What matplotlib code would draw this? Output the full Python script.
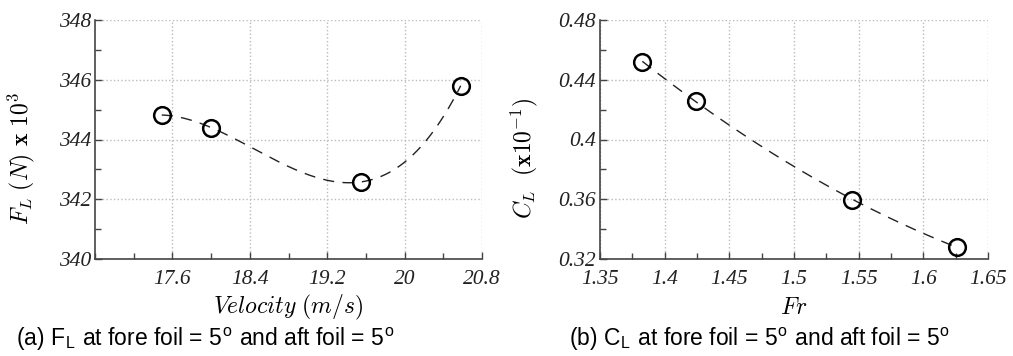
import matplotlib
matplotlib.use("Agg")
import matplotlib.pyplot as plt
import numpy as np
from matplotlib.ticker import MultipleLocator, FuncFormatter

# data
velocity = [17.49, 18.0, 19.55, 20.58]
lift_force = [344.82, 344.4, 342.58, 345.8]

froude = [1.3827, 1.4239, 1.5452, 1.6263]
lift_coef = [0.4521, 0.4258, 0.3597, 0.3278]

plt.rcParams['font.family'] = 'Liberation Serif'
plt.rcParams['font.style'] = 'italic'
plt.rcParams['mathtext.fontset'] = 'cm'

cap_font = ['Liberation Sans', 'DejaVu Sans']

fig = plt.figure(figsize=(10.13, 3.56), dpi=100)
ax1 = fig.add_axes([95 / 1013, 1 - 259 / 356, 387 / 1013, 239 / 356])
ax2 = fig.add_axes([600 / 1013, 1 - 259 / 356, 388 / 1013, 239 / 356])


def fmt(v, pos):
    return ('%.3f' % v).rstrip('0').rstrip('.')


def style(ax):
    for s in ['top', 'right']:
        ax.spines[s].set_visible(False)
    for s in ['left', 'bottom']:
        ax.spines[s].set_color('#444444')
        ax.spines[s].set_linewidth(1.2)
    ax.grid(True, which='major', linestyle=':', color='#bbbbbb', linewidth=1)
    ax.tick_params(which='both', direction='in', color='#444444', width=1)
    ax.tick_params(which='major', length=5, labelsize=15.5, labelcolor='#222222')
    ax.tick_params(axis='x', which='major', pad=8)
    ax.tick_params(axis='y', which='major', pad=3)
    ax.tick_params(which='minor', length=4)
    ax.xaxis.set_major_formatter(FuncFormatter(fmt))
    ax.yaxis.set_major_formatter(FuncFormatter(fmt))


# (a) lift force vs velocity
c1 = np.polyfit(velocity, lift_force, 3)
xs = np.linspace(min(velocity), max(velocity), 200)
ax1.plot(xs, np.polyval(c1, xs), '--', color='#222222', lw=1, dashes=(8, 6))
ax1.plot(velocity, lift_force, 'o', mfc='none', mec='black', ms=12, mew=1.8)
ax1.set_xlim(16.8, 20.8)
ax1.set_ylim(340, 348)
ax1.set_xticks([17.6, 18.4, 19.2, 20.0, 20.8])
ax1.xaxis.set_minor_locator(MultipleLocator(0.4))
ax1.yaxis.set_major_locator(MultipleLocator(2))
ax1.yaxis.set_minor_locator(MultipleLocator(1))
style(ax1)
ax1.set_xlabel(r'$Velocity\ (m/s)$', fontsize=17)
ax1.set_ylabel(r'$F_L\ (N)\ \mathbf{x}\ 10^3$', fontsize=17)
ax1.xaxis.set_label_coords(0.5, -0.142)
ax1.yaxis.set_label_coords(-0.15, 0.42)

# (b) lift coefficient vs Froude number
c2 = np.polyfit(froude, lift_coef, 2)
xs2 = np.linspace(min(froude), max(froude), 200)
ax2.plot(xs2, np.polyval(c2, xs2), '--', color='#222222', lw=1, dashes=(8, 6))
ax2.plot(froude, lift_coef, 'o', mfc='none', mec='black', ms=12, mew=1.8)
ax2.set_xlim(1.35, 1.65)
ax2.set_ylim(0.32, 0.48)
ax2.xaxis.set_major_locator(MultipleLocator(0.05))
ax2.xaxis.set_minor_locator(MultipleLocator(0.025))
ax2.yaxis.set_major_locator(MultipleLocator(0.04))
ax2.yaxis.set_minor_locator(MultipleLocator(0.02))
style(ax2)
ax2.set_xlabel(r'$Fr$', fontsize=17)
ax2.set_ylabel(r'$C_L\ \ (\mathbf{x}10^{-1})$', fontsize=17)
ax2.xaxis.set_label_coords(0.5, -0.165)
ax2.yaxis.set_label_coords(-0.155, 0.42)

fig.text(205 / 1013, 1 - 339 / 356,
         r'(a) F$_\mathregular{L}$ at fore foil = 5$^\mathregular{o}$ and aft foil = 5$^\mathregular{o}$',
         ha='center', va='center', fontsize=16.5, family=cap_font, style='normal')
fig.text(760 / 1013, 1 - 339 / 356,
         r'(b) C$_\mathregular{L}$ at fore foil = 5$^\mathregular{o}$ and aft foil = 5$^\mathregular{o}$',
         ha='center', va='center', fontsize=16.5, family=cap_font, style='normal')

fig.savefig('out.png', dpi=100)
